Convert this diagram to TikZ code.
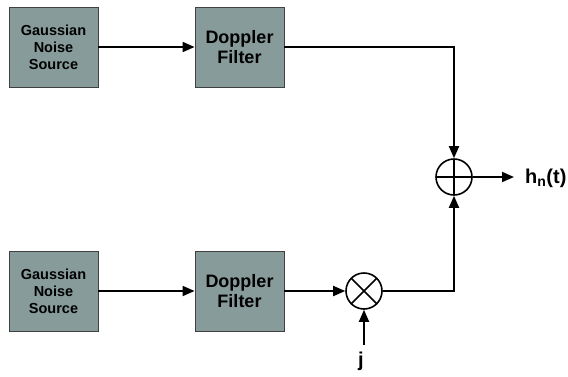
\documentclass[tikz,border=0pt]{standalone}
\usepackage{fontspec}
\setmainfont{Liberation Sans}
\usetikzlibrary{arrows.meta,positioning}
\definecolor{cBox}{HTML}{879C9A}
\definecolor{cEdge}{HTML}{404040}
\tikzset{
  blk/.style={draw=cEdge,fill=cBox,line width=0.9pt,minimum width=89pt,
              minimum height=80pt,align=center,inner sep=0pt},
  srcfont/.style={font=\fontsize{14.5}{17}\selectfont\bfseries},
  fltfont/.style={font=\fontsize{18}{20.5}\selectfont\bfseries},
  junc/.style={circle,draw,line width=1.6pt,minimum size=36pt,inner sep=0pt},
  sumnode/.style={junc,path picture={
      \draw[line width=1.6pt] (path picture bounding box.north) -- (path picture bounding box.south)
        (path picture bounding box.west) -- (path picture bounding box.east);}},
  mulnode/.style={junc,path picture={
      \draw[line width=1.6pt] (path picture bounding box.north west) -- (path picture bounding box.south east)
        (path picture bounding box.north east) -- (path picture bounding box.south west);}},
  sig/.style={-{Triangle[length=12pt,width=10pt]},line width=1.8pt},
  lbl/.style={font=\fontsize{20}{22}\selectfont\bfseries,inner sep=0pt},
}

\begin{document}
\begin{tikzpicture}[x=1pt,y=-1pt]
  \useasboundingbox (0,0) rectangle (568,376);
  % upper branch
  \node[blk,srcfont] (src1) at (53.5,47) {Gaussian\\Noise\\Source};
  \node[blk,fltfont] (flt1) at (239.5,47) {Doppler\\Filter};
  % lower branch
  \node[blk,srcfont] (src2) at (53.5,291) {Gaussian\\Noise\\Source};
  \node[blk,fltfont] (flt2) at (239.5,291) {Doppler\\Filter};
  \node[mulnode] (mul) at (364,291) {};
  \node[lbl,anchor=north] (j) at (361,352) {j};
  % adder and output
  \node[sumnode] (add) at (454,177) {};
  \node[lbl,anchor=west] (out) at (525,178) {h\textsubscript{n}(t)};
  % connectors
  \draw[sig] (src1) -- (flt1);
  \draw[sig] (flt1.east) -| (add.north);
  \draw[sig] (src2) -- (flt2);
  \draw[sig] (flt2) -- (mul);
  \draw[sig] (mul.east) -| (add.south);
  \draw[sig] ([yshift=7pt]j.north -| mul.south) -- (mul.south);
  \draw[sig] (add.east) -- ([xshift=-11pt]out.west |- add.east);
\end{tikzpicture}
\end{document}
